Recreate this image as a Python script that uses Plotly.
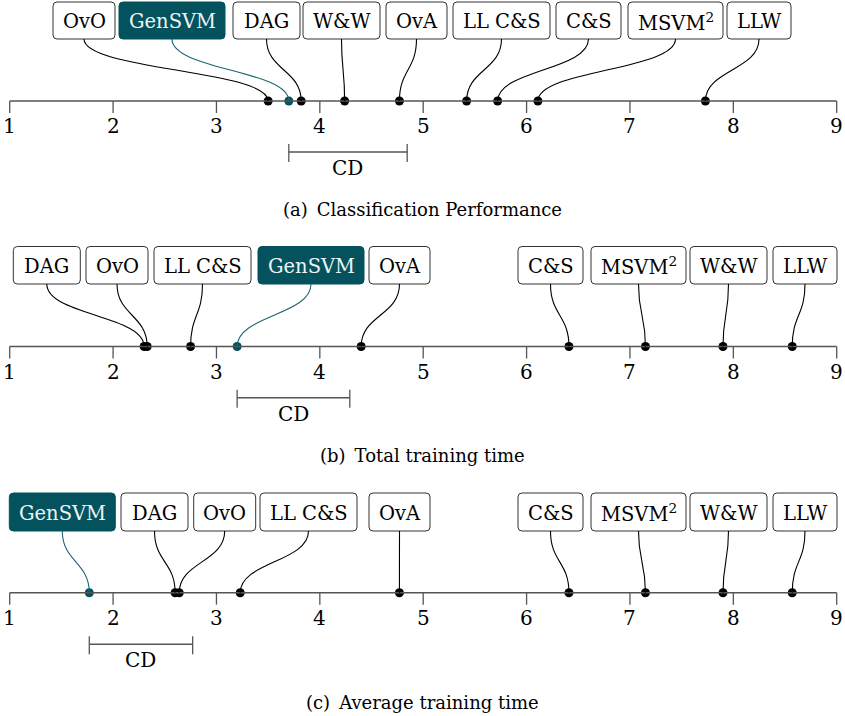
import plotly.graph_objects as go

# ---- data: average ranks per method for the three comparisons ----
methods = ["GenSVM", "DAG", "OvO", "LL C&S", "OvA", "C&S", "MSVM<sup>2</sup>", "W&W", "LLW"]
ranks_performance = [3.70, 3.82, 3.50, 5.42, 4.77, 5.72, 6.11, 4.24, 7.73]
ranks_total_time = [3.20, 2.30, 2.33, 2.75, 4.40, 6.41, 7.15, 7.90, 8.57]
ranks_avg_time = [1.77, 2.60, 2.64, 3.23, 4.77, 6.41, 7.15, 7.90, 8.57]
cd_values = [1.145, 1.09, 1.00]
captions = ["(a)\u2002Classification Performance", "(b)\u2002Total training time",
            "(c)\u2002Average training time"]
tick_values = [1, 2, 3, 4, 5, 6, 7, 8, 9]

# ---- layout / style ----
W, H = 845, 716
PX_PER_RANK = 103.375
X0 = 1 - 9.7 / PX_PER_RANK
X1 = X0 + W / PX_PER_RANK
HIGHLIGHT = "GenSVM"
TEAL = "#03525d"
AXIS_COLOR = "#555555"
FONT = "DejaVu Serif"
FS_BOX = 19.5
FS_TICK = 20
FS_CAPTION = 18

box_width = {"GenSVM": 106, "DAG": 67, "OvO": 62, "LL C&S": 97, "OvA": 61,
             "C&S": 65, "MSVM<sup>2</sup>": 95, "W&W": 77, "LLW": 64}

panels = [
    dict(ranks=ranks_performance, box_top=2, box_bot=39, axis=101, cd_y=152,
         caption_y=209, lefts=[53, 119, 233, 303, 386, 453, 556, 628, 727]),
    dict(ranks=ranks_total_time, box_top=246.5, box_bot=284, axis=346.5, cd_y=397.7,
         caption_y=455, lefts=[13.3, 86, 154, 258, 369, 518, 591, 690, 773]),
    dict(ranks=ranks_avg_time, box_top=493, box_bot=531, axis=592.7, cd_y=644.3,
         caption_y=702, lefts=[9.3, 121, 193.7, 260, 369, 518, 591, 690, 773]),
]


def px_to_rank(px):
    return X0 + px / PX_PER_RANK


def rounded_box(x_left, x_right, y_top, y_bot, r_px=4):
    rx = r_px / PX_PER_RANK
    ry = r_px
    return (f"M {x_left + rx} {y_top} L {x_right - rx} {y_top} "
            f"Q {x_right} {y_top} {x_right} {y_top + ry} "
            f"L {x_right} {y_bot - ry} Q {x_right} {y_bot} {x_right - rx} {y_bot} "
            f"L {x_left + rx} {y_bot} Q {x_left} {y_bot} {x_left} {y_bot - ry} "
            f"L {x_left} {y_top + ry} Q {x_left} {y_top} {x_left + rx} {y_top} Z")


fig = go.Figure()
shapes = []
annotations = []

for p, cd, caption in zip(panels, cd_values, captions):
    ranks = p["ranks"]
    order = sorted(range(len(methods)), key=lambda i: ranks[i])
    ay = p["axis"]

    # main axis line and tick marks
    shapes.append(dict(type="line", xref="x", yref="y", x0=tick_values[0], x1=tick_values[-1],
                       y0=ay, y1=ay, line=dict(color=AXIS_COLOR, width=1.6)))
    for t in tick_values:
        shapes.append(dict(type="line", xref="x", yref="y", x0=t, x1=t, y0=ay, y1=ay + 12,
                           line=dict(color=AXIS_COLOR, width=1.3)))
        annotations.append(dict(x=t, y=ay + 25, xref="x", yref="y", text=str(t),
                                showarrow=False,
                                font=dict(family=FONT, size=FS_TICK, color="black")))

    # label boxes and connectors
    for slot, i in enumerate(order):
        name = methods[i]
        hl = name == HIGHLIGHT
        left_px = p["lefts"][slot]
        xl = px_to_rank(left_px)
        xr = px_to_rank(left_px + box_width[name])
        xc = (xl + xr) / 2
        yt, yb = p["box_top"], p["box_bot"]
        shapes.append(dict(type="path", xref="x", yref="y", path=rounded_box(xl, xr, yt, yb),
                           fillcolor=TEAL if hl else "white",
                           line=dict(color=TEAL if hl else "#333333", width=1)))
        annotations.append(dict(x=xc, y=(yt + yb) / 2 + 1, xref="x", yref="y", text=name,
                                showarrow=False,
                                font=dict(family=FONT, size=FS_BOX,
                                          color="#eef4f4" if hl else "black")))
        dy = (ay - yb) / 2
        shapes.append(dict(type="path", xref="x", yref="y",
                           path=f"M {xc} {yb} C {xc} {yb + dy} {ranks[i]} {ay - dy} {ranks[i]} {ay}",
                           line=dict(color="#1d6470" if hl else "black", width=1.1)))

    # rank dots
    fig.add_trace(go.Scatter(
        x=[ranks[i] for i in order], y=[ay] * len(order), mode="markers",
        marker=dict(size=9, color=[TEAL if methods[i] == HIGHLIGHT else "black" for i in order]),
        hoverinfo="skip", showlegend=False))

    # critical difference bar starting at the highlighted method
    start = ranks[methods.index(HIGHLIGHT)]
    cy = p["cd_y"]
    shapes.append(dict(type="line", xref="x", yref="y", x0=start, x1=start + cd, y0=cy, y1=cy,
                       line=dict(color=AXIS_COLOR, width=1.5)))
    for xe in (start, start + cd):
        shapes.append(dict(type="line", xref="x", yref="y", x0=xe, x1=xe, y0=cy - 8, y1=cy + 10,
                           line=dict(color=AXIS_COLOR, width=1.3)))
    annotations.append(dict(x=start + cd / 2, y=cy + 16, xref="x", yref="y", text="CD",
                            showarrow=False,
                            font=dict(family=FONT, size=FS_TICK, color="black")))

    annotations.append(dict(x=0.5, y=p["caption_y"], xref="paper", yref="y", text=caption,
                            showarrow=False,
                            font=dict(family=FONT, size=FS_CAPTION, color="black")))

fig.update_layout(
    width=W, height=H, margin=dict(l=0, r=0, t=0, b=0),
    paper_bgcolor="white", plot_bgcolor="white",
    font=dict(family=FONT),
    xaxis=dict(range=[X0, X1], visible=False, fixedrange=True),
    yaxis=dict(range=[H, 0], visible=False, fixedrange=True),
    shapes=shapes, annotations=annotations, showlegend=False,
)

fig.write_html("out.html")
